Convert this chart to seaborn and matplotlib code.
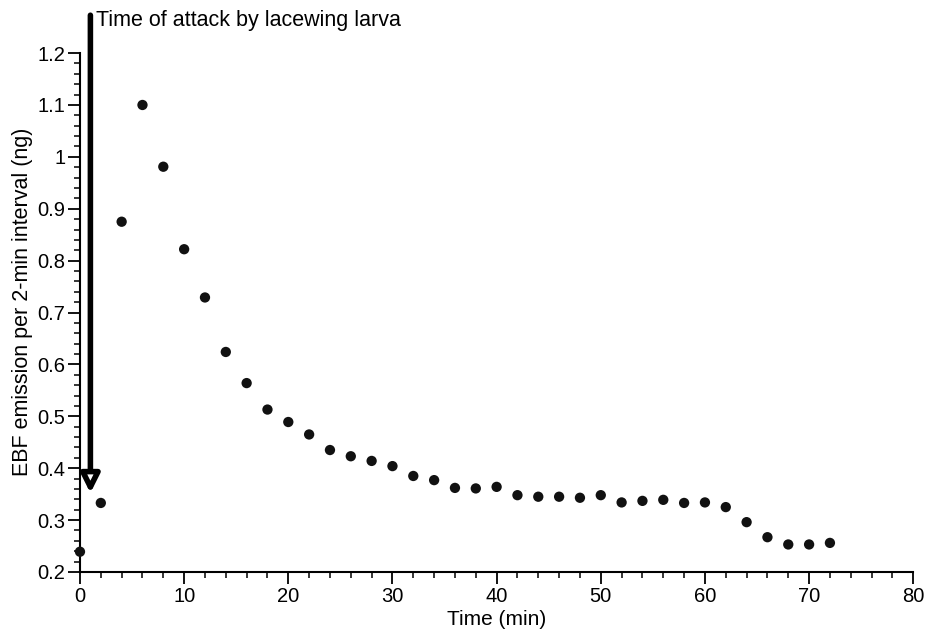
import numpy as np
import pandas as pd
import seaborn as sns
import matplotlib.pyplot as plt
from matplotlib.ticker import MultipleLocator

# EBF emission after lacewing attack
time_min = [0, 2, 4, 6, 8, 10, 12, 14, 16, 18, 20, 22, 24, 26, 28, 30, 32, 34, 36,
            38, 40, 42, 44, 46, 48, 50, 52, 54, 56, 58, 60, 62, 64, 66, 68, 70, 72]
ebf_ng = [0.239, 0.333, 0.875, 1.100, 0.981, 0.822, 0.729, 0.624, 0.564, 0.513,
          0.489, 0.465, 0.435, 0.423, 0.414, 0.404, 0.385, 0.377, 0.362, 0.361,
          0.364, 0.348, 0.345, 0.345, 0.343, 0.348, 0.334, 0.337, 0.339, 0.333,
          0.334, 0.325, 0.296, 0.267, 0.253, 0.253, 0.256]

attack_time = 1
attack_label = 'Time of attack by lacewing larva'

df = pd.DataFrame({'Time': time_min, 'EBF': ebf_ng})

sns.set_style('ticks', {'text.color': 'black', 'axes.labelcolor': 'black',
                        'xtick.color': 'black', 'ytick.color': 'black',
                        'axes.edgecolor': 'black'})
plt.rcParams['font.family'] = ['Liberation Sans', 'DejaVu Sans']

fig = plt.figure(figsize=(9.3, 6.32), dpi=100)
ax = fig.add_axes([0.086, 0.095, 0.896, 0.821])

sns.scatterplot(data=df, x='Time', y='EBF', color='#111111', s=55,
                edgecolor='none', ax=ax, legend=False, clip_on=False, zorder=3)

ax.set_xlim(0, 80)
ax.set_ylim(0.2, 1.2)
ax.xaxis.set_major_locator(MultipleLocator(10))
ax.xaxis.set_minor_locator(MultipleLocator(2))
ax.yaxis.set_minor_locator(MultipleLocator(0.02))
ax.set_yticks(np.arange(0.2, 1.21, 0.1))
ax.set_yticklabels(['0.2', '0.3', '0.4', '0.5', '0.6', '0.7', '0.8', '0.9', '1', '1.1', '1.2'])

ax.tick_params(which='major', length=8.5, width=1.3, labelsize=14.5,
               color='black', labelcolor='black', pad=2)
ax.tick_params(which='minor', length=4, width=1.1, color='black')
for side in ['left', 'bottom']:
    ax.spines[side].set_linewidth(1.5)
    ax.spines[side].set_color('black')
sns.despine(ax=ax)

ax.set_xlabel('Time (min)', fontsize=15, labelpad=3, color='black')
ax.set_ylabel('EBF emission per 2-min interval (ng)', fontsize=15.5, color='black')
ax.yaxis.set_label_coords(-0.056, 0.52)

# attack arrow
ax.annotate('', xy=(attack_time, 0.352), xytext=(attack_time, 1.273),
            arrowprops=dict(arrowstyle='-|>,head_length=1.1,head_width=0.55',
                            lw=4, color='black', fc='white', shrinkA=0, shrinkB=0),
            annotation_clip=False)
ax.text(attack_time + 0.55, 1.262, attack_label, fontsize=15.5, va='center',
        ha='left', color='black', clip_on=False)

fig.savefig('out.png', dpi=100)
